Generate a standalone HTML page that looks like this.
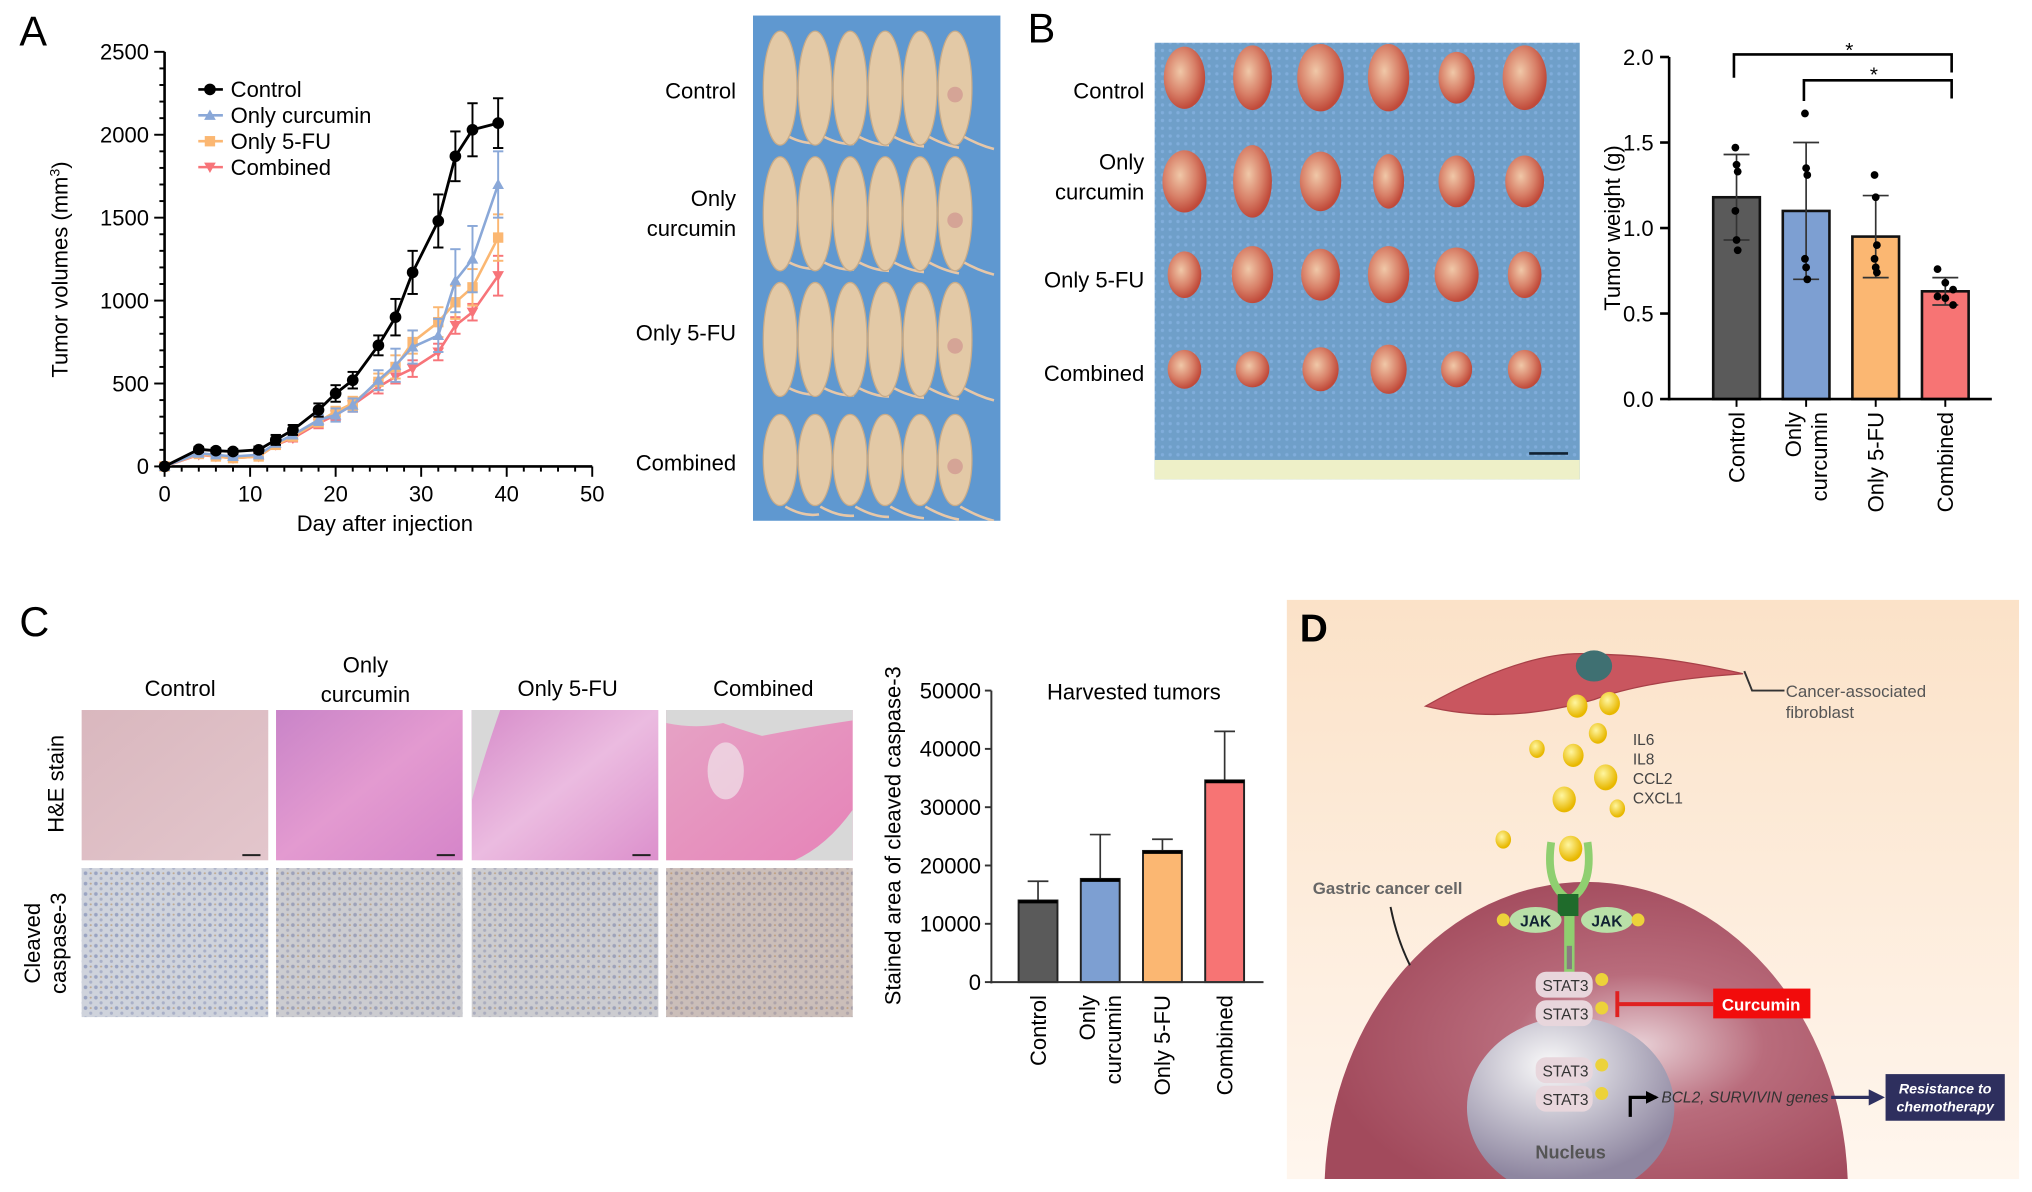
<!DOCTYPE html>
<html><head><meta charset="utf-8">
<style>
html,body{margin:0;padding:0;background:#fff;width:2032px;height:1192px;overflow:hidden;}
svg{display:block;font-family:"Liberation Sans",sans-serif;overflow:hidden;}
</style></head>
<body>
<svg id="fig" width="2032" height="1192" viewBox="0 0 1568 920" preserveAspectRatio="none" xmlns="http://www.w3.org/2000/svg">
<defs>
<pattern id="blueTex" width="6" height="6" patternUnits="userSpaceOnUse"><rect width="6" height="6" fill="#6f9fc9"/><circle cx="3" cy="3" r="1.3" fill="#80addb"/></pattern>
<radialGradient id="tumorG" cx="40%" cy="40%" r="60%"><stop offset="0" stop-color="#f0c8a8"/><stop offset="0.6" stop-color="#d88068"/><stop offset="1" stop-color="#c04a3a"/></radialGradient>
<linearGradient id="heG1" x1="0" y1="0" x2="1" y2="1"><stop offset="0" stop-color="#d9b7be"/><stop offset="1" stop-color="#e3c6cc"/></linearGradient>
<linearGradient id="heG2" x1="0" y1="0" x2="1" y2="1"><stop offset="0" stop-color="#c984c8"/><stop offset="0.5" stop-color="#e39ad0"/><stop offset="1" stop-color="#d585c9"/></linearGradient>
<linearGradient id="heG3" x1="0" y1="0" x2="1" y2="1"><stop offset="0" stop-color="#d68bc9"/><stop offset="0.5" stop-color="#ebbbe0"/><stop offset="1" stop-color="#dc90cc"/></linearGradient>
<linearGradient id="heG4" x1="0" y1="0" x2="1" y2="1"><stop offset="0" stop-color="#e6a3c5"/><stop offset="1" stop-color="#e683b8"/></linearGradient>
<pattern id="ihc" width="8" height="8" patternUnits="userSpaceOnUse"><rect width="8" height="8" fill="#cfd3dc"/><circle cx="2" cy="2" r="1.4" fill="#9aa4c2"/><circle cx="6" cy="6" r="1.2" fill="#a9b0c8"/><circle cx="6" cy="2" r="0.8" fill="#bfa98f"/></pattern>
<linearGradient id="dBg" x1="0" y1="0" x2="0" y2="1"><stop offset="0" stop-color="#fbe2c8"/><stop offset="1" stop-color="#fff6ee"/></linearGradient>
<radialGradient id="cellG" cx="60%" cy="55%" r="60%"><stop offset="0" stop-color="#e8d0d6"/><stop offset="0.4" stop-color="#b96c7c"/><stop offset="1" stop-color="#a24a5c"/></radialGradient>
<radialGradient id="nucG" cx="40%" cy="30%" r="70%"><stop offset="0" stop-color="#fafafa"/><stop offset="0.6" stop-color="#b8b4c4"/><stop offset="1" stop-color="#8e86a0"/></radialGradient>
<radialGradient id="ballG" cx="40%" cy="35%" r="60%"><stop offset="0" stop-color="#fff6a0"/><stop offset="1" stop-color="#e8b800"/></radialGradient>
<clipPath id="miceClip"><rect x="581" y="12" width="191" height="390"/></clipPath>
<marker id="arr" viewBox="0 0 10 10" refX="8" refY="5" markerWidth="5" markerHeight="5" orient="auto"><path d="M0,0L10,5L0,10z" fill="#2e3060"/></marker>
<marker id="arrK" viewBox="0 0 10 10" refX="8" refY="5" markerWidth="4" markerHeight="4" orient="auto"><path d="M0,0L10,5L0,10z" fill="#000"/></marker>
</defs>
<g id="root"></g>
</svg>
<script>
// ---------- Panel A data ----------
const daysA = [0,4,6,8,11,13,15,18,20,22,25,27,29,32,34,36,39];
const ctrlA = [0,103,95,90,100,160,220,340,440,520,730,900,1170,1480,1870,2030,2070];
const ctrlErrA = [0,15,15,15,20,30,30,40,50,50,60,110,130,160,150,160,150];
const curcA = [0,80,70,60,70,140,190,280,310,370,520,610,720,790,1120,1250,1700];
const curcErrA = [0,10,10,10,15,20,20,30,40,40,60,100,100,100,190,200,200];
const fuA = [0,75,60,50,60,130,180,270,330,380,510,600,750,870,990,1080,1380];
const fuErrA = [0,10,10,10,15,20,20,30,30,40,50,70,70,90,100,110,140];
const combA = [0,70,60,50,60,130,170,260,310,370,480,540,590,690,850,930,1150];
const combErrA = [0,10,10,10,15,20,20,30,30,40,40,40,50,50,50,50,120];
const xTicksA = [0,10,20,30,40,50];
const yTicksA = [0,500,1000,1500,2000,2500];
const seriesNamesA = ["Control","Only curcumin","Only 5-FU","Combined"];
// ---------- Panel B data ----------
const catsB = ["Control","Only curcumin","Only 5-FU","Combined"];
const meansB = [1.18,1.10,0.95,0.63];
const sdB = [0.25,0.40,0.24,0.08];
const dotsB = [[1.47,1.37,1.33,1.10,0.93,0.87],[1.67,1.35,1.31,0.82,0.77,0.70],[1.31,1.18,0.90,0.82,0.77,0.74],[0.76,0.68,0.64,0.60,0.59,0.55]];
const yTicksB = ["0.0","0.5","1.0","1.5","2.0"];
// ---------- Panel C data ----------
const catsC = ["Control","Only curcumin","Only 5-FU","Combined"];
const meansC = [14000,17700,22500,34600];
const errTopC = [17300,25300,24500,43000];
const yTicksC = [0,10000,20000,30000,40000,50000];
const colors = ["#5a5a5a","#7d9fd2","#fbb772","#f77474"];

const NS="http://www.w3.org/2000/svg";
const root=document.getElementById('root');
function mk(tag,attrs,parent,txt){const e=document.createElementNS(NS,tag);for(const k in attrs)e.setAttribute(k,attrs[k]);if(txt!==undefined)e.textContent=txt;(parent||root).appendChild(e);return e;}
function grp(name){const g=mk('g',{});return g;}

// ===== Panel letters =====
[["A",15,35],["B",793,33],["C",15,491]].forEach(p=>{
  const t=mk('text',{x:p[1],y:p[2],'font-size':32},root,p[0]);
  
  
});

// ===== Panel A chart =====
const gA=grp('panel-a-line-chart');
const xA=d=>127+d*(457-127)/50, yA=v=>360-v*(360-40)/2500;
mk('line',{x1:127,y1:40,x2:127,y2:360,stroke:'#000','stroke-width':2},gA);
mk('line',{x1:127,y1:360,x2:457,y2:360,stroke:'#000','stroke-width':2},gA);
for(let d=0;d<=50;d+=2){mk('line',{x1:xA(d),y1:360,x2:xA(d),y2:d%10===0?368:364,stroke:'#000','stroke-width':1.5},gA);}
for(let v=0;v<=2500;v+=100){mk('line',{x1:127,y1:yA(v),x2:v%500===0?119:123,y2:yA(v),stroke:'#000','stroke-width':1.5},gA);}
xTicksA.forEach(d=>{const t=mk('text',{x:xA(d),y:387,'font-size':17,'text-anchor':'middle'},gA,d);
  
  });
yTicksA.forEach(v=>{const t=mk('text',{x:115,y:yA(v)+6,'font-size':17,'text-anchor':'end'},gA,v);
  
  });
let tt=mk('text',{x:297,y:410,'font-size':17,'text-anchor':'middle'},gA,'Day after injection');


tt=mk('text',{x:0,y:0,'font-size':17,'text-anchor':'middle',transform:'translate(52,208) rotate(-90)'},gA);


tt.innerHTML='Tumor volumes (mm<tspan baseline-shift="super" font-size="11">3</tspan>)';
const serA=[[ctrlA,ctrlErrA,'#000'],[curcA,curcErrA,'#8aa8d8'],[fuA,fuErrA,'#fbb772'],[combA,combErrA,'#f77479']];
for(let s=3;s>=0;s--){
  const [vals,errs,c]=serA[s];
  const g=grp('series-'+seriesNamesA[s].toLowerCase().replace(/[^a-z0-9]+/g,'-'));
  gA.appendChild(g);
  mk('polyline',{points:daysA.map((d,i)=>xA(d)+','+yA(vals[i])).join(' '),fill:'none',stroke:c,'stroke-width':s===0?2.2:2},g);
  daysA.forEach((d,i)=>{
    mk('line',{x1:xA(d),y1:yA(vals[i]+errs[i]),x2:xA(d),y2:yA(vals[i]-errs[i]),stroke:c,'stroke-width':1.5},g);
    mk('line',{x1:xA(d)-4,y1:yA(vals[i]+errs[i]),x2:xA(d)+4,y2:yA(vals[i]+errs[i]),stroke:c,'stroke-width':1.5},g);
    mk('line',{x1:xA(d)-4,y1:yA(vals[i]-errs[i]),x2:xA(d)+4,y2:yA(vals[i]-errs[i]),stroke:c,'stroke-width':1.5},g);
    let m;
    if(s===0) m=mk('circle',{cx:xA(d),cy:yA(vals[i]),r:4.5,fill:c},g);
    else if(s===3) m=mk('path',{d:`M${xA(d)-4.5},${yA(vals[i])-3.5}h9l-4.5,8z`,fill:c},g);
    else if(s===1) m=mk('path',{d:`M${xA(d)-4.5},${yA(vals[i])+3.5}h9l-4.5,-8z`,fill:c},g);
    else m=mk('rect',{x:xA(d)-4,y:yA(vals[i])-4,width:8,height:8,fill:c},g);
    
    
  });
}
const legA=grp('legend');gA.appendChild(legA);
seriesNamesA.forEach((n,i)=>{
  const y=69+i*20,c=serA[i][2];
  mk('line',{x1:153,y1:y,x2:172,y2:y,stroke:c,'stroke-width':2},legA);
  if(i===0) mk('circle',{cx:162,cy:y,r:4.5,fill:c},legA);
  else if(i===1) mk('path',{d:`M157.5,${y+3.5}h9l-4.5,-8z`,fill:c},legA);
  else if(i===2) mk('rect',{x:158,y:y-4,width:8,height:8,fill:c},legA);
  else mk('path',{d:`M157.5,${y-3.5}h9l-4.5,8z`,fill:c},legA);
  const t=mk('text',{x:178,y:y+6,'font-size':17},legA,n);
  
  
});

// ===== Mice photo =====
const gM=grp('mice-photo');
gM.setAttribute('clip-path','url(#miceClip)');
mk('rect',{x:581,y:12,width:191,height:390,fill:'#5f98d0'},gM);
[[68,1],[165,1],[262,1],[355,0.8]].forEach((r,ri)=>{
  for(let k=0;k<6;k++){
    const cx=602+k*27, cy=r[0];
    mk('path',{d:`M${cx+4},${cy+36} q14,8 26,${6+k}`,fill:'none',stroke:'#e6c7a8','stroke-width':2},gM);
    mk('ellipse',{cx:cx,cy:cy,rx:13,ry:44*r[1],fill:'#e3c9a6',stroke:'#c8ab88','stroke-width':1},gM);
  }
  mk('circle',{cx:602+5*27,cy:r[0]+5,r:6,fill:'#d5a496'},gM);
});
[["Control",70],["Only",153],["curcumin",176],["Only 5-FU",257],["Combined",357]].forEach(l=>{
  const t=mk('text',{x:568,y:l[1]+6,'font-size':17,'text-anchor':'end'},root,l[0]);
  
  
});

// ===== Tumor photo =====
const gT=grp('tumor-photo');
mk('rect',{x:891,y:33,width:328,height:337,fill:'url(#blueTex)'},gT);
mk('rect',{x:891,y:355,width:328,height:15,fill:'#eef0c8'},gT);
mk('line',{x1:1180,y1:350,x2:1210,y2:350,stroke:'#123','stroke-width':2},gT);
const tsz=[[[16,24],[15,25],[18,26],[16,26],[14,20],[17,25]],[[17,24],[15,28],[16,23],[12,21],[14,20],[15,20]],[[13,18],[16,22],[15,20],[16,22],[17,21],[13,18]],[[13,15],[13,14],[14,17],[14,19],[12,14],[13,15]]];
[60,140,212,285].forEach((ry,ri)=>{
  for(let k=0;k<6;k++){const cx=914+k*52.5;mk('ellipse',{cx:cx,cy:ry,rx:tsz[ri][k][0],ry:tsz[ri][k][1],fill:'url(#tumorG)'},gT);}
});
[["Control",70],["Only",125],["curcumin",148],["Only 5-FU",216],["Combined",288]].forEach(l=>{
  const t=mk('text',{x:883,y:l[1]+6,'font-size':17,'text-anchor':'end'},root,l[0]);
  
  
});

// ===== Panel B bar chart =====
const gB=grp('panel-b-bar-chart');
const yB=v=>308-v*(308-44)/2.0, xB=i=>1340+i*53.7, bwB=36;
catsB.forEach((c,i)=>{
  const b=mk('rect',{x:xB(i)-bwB/2,y:yB(meansB[i]),width:bwB,height:308-yB(meansB[i]),fill:colors[i],stroke:'#111','stroke-width':2},gB);
  
  
  const hi=meansB[i]+sdB[i],lo=meansB[i]-sdB[i];
  mk('line',{x1:xB(i),y1:yB(hi),x2:xB(i),y2:yB(lo),stroke:'#333','stroke-width':1.3},gB);
  mk('line',{x1:xB(i)-10,y1:yB(hi),x2:xB(i)+10,y2:yB(hi),stroke:'#333','stroke-width':1.3},gB);
  mk('line',{x1:xB(i)-10,y1:yB(lo),x2:xB(i)+10,y2:yB(lo),stroke:'#333','stroke-width':1.3},gB);
  dotsB[i].forEach((v,j)=>{const d=mk('circle',{cx:xB(i)+((j%3)-1)*3*(i===3?2:0.3),cy:yB(v),r:3,fill:'#000'},gB);
    
    });
  mk('line',{x1:xB(i),y1:308,x2:xB(i),y2:314,stroke:'#000','stroke-width':1.5},gB);
});
mk('line',{x1:1288,y1:44,x2:1288,y2:309,stroke:'#000','stroke-width':2},gB);
mk('line',{x1:1287,y1:308,x2:1537,y2:308,stroke:'#000','stroke-width':2},gB);
yTicksB.forEach(v=>{mk('line',{x1:1281,y1:yB(+v),x2:1288,y2:yB(+v),stroke:'#000','stroke-width':2},gB);
  const t=mk('text',{x:1276,y:yB(+v)+6,'font-size':17,'text-anchor':'end'},gB,v);
  
  });
tt=mk('text',{x:0,y:0,'font-size':17,'text-anchor':'middle',transform:'translate(1250,176) rotate(-90)'},gB,'Tumor weight (g)');


catsB.forEach((c,i)=>{
  const parts=c==="Only curcumin"?["Only","curcumin"]:[c];
  parts.forEach((p,k)=>{const t=mk('text',{x:0,y:0,'font-size':17,'text-anchor':'end',transform:`translate(${xB(i)+6+(parts.length>1?(k*20-10):0)},318) rotate(-90)`},gB,p);
    
    });
});
mk('path',{d:'M1338,60 V42 H1506 V56',fill:'none',stroke:'#000','stroke-width':2},gB);
mk('path',{d:'M1392,78 V62 H1506 V76',fill:'none',stroke:'#000','stroke-width':2},gB);
mk('text',{x:1427,y:44,'font-size':16,'text-anchor':'middle'},gB,'*');
mk('text',{x:1446,y:63,'font-size':16,'text-anchor':'middle'},gB,'*');

// ===== Panel C histology =====
const gH=grp('histology-images');
const colX=[63,213,364,514];
colX.forEach((x,i)=>{
  mk('rect',{x:x,y:548,width:144,height:116,fill:`url(#heG${i+1})`},gH);
  mk('rect',{x:x,y:670,width:144,height:115,fill:'url(#ihc)'},gH);
  if(i>0) mk('rect',{x:x,y:670,width:144,height:115,fill:i===3?'#c08050':'#b89070',opacity:i===3?0.25:0.1},gH);
  mk('line',{x1:x+124,y1:660,x2:x+138,y2:660,stroke:'#222','stroke-width':1.5},gH);
});
mk('path',{d:'M514,548 h144 v8 q-40,6 -70,12 q-20,-6 -30,-10 q-20,5 -44,0z',fill:'#d8d8d8'},gH);
mk('path',{d:'M658,625 q-20,28 -45,39 h45z',fill:'#d8d8d8'},gH);
mk('path',{d:'M364,548 h22 q-14,40 -22,70z',fill:'#d8d8d8'},gH);
mk('ellipse',{cx:560,cy:595,rx:14,ry:22,fill:'#f0e4ea',opacity:0.7},gH);
[["Control",139,531],["Only",282,513],["curcumin",282,536],["Only 5-FU",438,531],["Combined",589,531]].forEach(l=>{
  const t=mk('text',{x:l[1],y:l[2]+6,'font-size':17,'text-anchor':'middle'},root,l[0]);
  
  
});
[["H&E stain",49,605],["Cleaved",31,728],["caspase-3",51,728]].forEach(l=>{
  const t=mk('text',{x:0,y:0,'font-size':17,'text-anchor':'middle',transform:`translate(${l[1]},${l[2]}) rotate(-90)`},root,l[0]);
  
  
});

// ===== Panel C bar chart =====
const gC=grp('panel-c-bar-chart');
const yC=v=>758-v*(758-533)/50000, xC=i=>801+i*48, bwC=30;
catsC.forEach((c,i)=>{
  mk('line',{x1:xC(i),y1:yC(errTopC[i]),x2:xC(i),y2:yC(meansC[i]),stroke:'#333','stroke-width':1.3},gC);
  mk('line',{x1:xC(i)-8,y1:yC(errTopC[i]),x2:xC(i)+8,y2:yC(errTopC[i]),stroke:'#333','stroke-width':1.3},gC);
  const b=mk('rect',{x:xC(i)-bwC/2,y:yC(meansC[i]),width:bwC,height:758-yC(meansC[i]),fill:colors[i],stroke:'#222','stroke-width':1.5},gC);
  
  
  mk('line',{x1:xC(i)-bwC/2,y1:yC(meansC[i])+1,x2:xC(i)+bwC/2,y2:yC(meansC[i])+1,stroke:'#000','stroke-width':2.5},gC);
  const parts=c==="Only curcumin"?["Only","curcumin"]:[c];
  parts.forEach((p,k)=>{const t=mk('text',{x:0,y:0,'font-size':17,'text-anchor':'end',transform:`translate(${xC(i)+6+(parts.length>1?(k*20-10):0)},768) rotate(-90)`},gC,p);
    
    });
});
mk('line',{x1:765,y1:533,x2:765,y2:759,stroke:'#333','stroke-width':1.5},gC);
mk('line',{x1:764,y1:758,x2:975,y2:758,stroke:'#333','stroke-width':1.5},gC);
yTicksC.forEach(v=>{mk('line',{x1:760,y1:yC(v),x2:765,y2:yC(v),stroke:'#333','stroke-width':1.5},gC);
  const t=mk('text',{x:757,y:yC(v)+6,'font-size':17,'text-anchor':'end'},gC,v);
  
  });
tt=mk('text',{x:875,y:540,'font-size':17,'text-anchor':'middle'},gC,'Harvested tumors');


tt=mk('text',{x:0,y:0,'font-size':17,'text-anchor':'middle',transform:'translate(695,645) rotate(-90)'},gC,'Stained area of cleaved caspase-3');



// ===== Panel D diagram =====
const gD=grp('panel-d-diagram');
mk('rect',{x:993,y:463,width:565,height:447,fill:'url(#dBg)'},gD);
mk('path',{d:'M1022.2,910 A202,240 0 0 1 1425.8,910 Z',fill:'url(#cellG)'},gD);
mk('path',{d:'M1162.5,910 A80,70 0 1 1 1261.5,910 Z',fill:'url(#nucG)'},gD);
mk('path',{d:'M1100,545 Q1180,500 1230,505 Q1280,505 1345,520 Q1270,525 1230,540 Q1160,560 1100,545Z',fill:'#c9565f',stroke:'#a84048','stroke-width':1},gD);
mk('ellipse',{cx:1230,cy:514,rx:14,ry:12,fill:'#3f7072'},gD);
[[1217,545,8],[1242,543,8],[1214,583,8],[1239,600,9],[1207,617,9],[1233,566,7],[1186,578,6],[1248,624,6],[1160,648,6],[1212,655,9]].forEach(b=>mk('ellipse',{cx:b[0],cy:b[1],rx:b[2],ry:b[2]+1,fill:'url(#ballG)'},gD));
mk('path',{d:'M1197,650 q-5,35 15,45 v60 M1225,650 q5,35 -15,45 v60',fill:'none',stroke:'#8fcf70','stroke-width':6},gD);
mk('rect',{x:1202,y:690,width:16,height:17,fill:'#1f6b2b'},gD);
[[1185,710,'JAK'],[1240,710,'JAK']].forEach(j=>{mk('ellipse',{cx:j[0],cy:j[1],rx:20,ry:10,fill:'#b9e0a8'},gD);mk('text',{x:j[0],y:j[1]+5,'font-size':12,'font-weight':'bold','text-anchor':'middle',fill:'#123'},gD,j[2]);});
mk('circle',{cx:1160,cy:710,r:5,fill:'#ecd23a'},gD);mk('circle',{cx:1264,cy:710,r:5,fill:'#ecd23a'},gD);
mk('line',{x1:1211,y1:730,x2:1211,y2:748,stroke:'#8a7a80','stroke-width':4},gD);
[[760,'STAT3'],[782,'STAT3'],[826,'STAT3'],[848,'STAT3']].forEach(s=>{mk('rect',{x:1185,y:s[0]-10,width:44,height:20,rx:8,fill:'#e8d6dc'},gD);mk('text',{x:1208,y:s[0]+5,'font-size':12,'text-anchor':'middle',fill:'#333'},gD,s[1]);mk('circle',{cx:1236,cy:s[0]-4,r:5,fill:'#ecd23a'},gD);});
mk('line',{x1:1248,y1:775,x2:1322,y2:775,stroke:'#e02020','stroke-width':3},gD);
mk('line',{x1:1248,y1:765,x2:1248,y2:785,stroke:'#e02020','stroke-width':3},gD);
mk('rect',{x:1322,y:763,width:75,height:23,fill:'#f20c0c'},gD);
mk('text',{x:1359,y:780,'font-size':13,'font-weight':'bold','text-anchor':'middle',fill:'#fff'},gD,'Curcumin');
mk('path',{d:'M1258,862 v-15 h20',fill:'none',stroke:'#000','stroke-width':2.5,'marker-end':'url(#arrK)'},gD);
mk('text',{x:1282,y:851,'font-size':12,'font-style':'italic',fill:'#333'},gD,'BCL2, SURVIVIN genes');
mk('line',{x1:1413,y1:847,x2:1452,y2:847,stroke:'#2e3060','stroke-width':2.5,'marker-end':'url(#arr)'},gD);
mk('rect',{x:1455,y:829,width:92,height:36,fill:'#2e2f5e'},gD);
mk('text',{x:1501,y:844,'font-size':11,'font-weight':'bold','font-style':'italic','text-anchor':'middle',fill:'#fff'},gD,'Resistance to');
mk('text',{x:1501,y:858,'font-size':11,'font-weight':'bold','font-style':'italic','text-anchor':'middle',fill:'#fff'},gD,'chemotherapy');
mk('text',{x:1212,y:894,'font-size':14,'font-weight':'bold','text-anchor':'middle',fill:'#555'},gD,'Nucleus');
mk('path',{d:'M1346,518 l6,15 h25',fill:'none',stroke:'#333','stroke-width':1.5},gD);
mk('text',{x:1378,y:538,'font-size':13,fill:'#555'},gD,'Cancer-associated');
mk('text',{x:1378,y:554,'font-size':13,fill:'#555'},gD,'fibroblast');
['IL6','IL8','CCL2','CXCL1'].forEach((c,i)=>mk('text',{x:1260,y:575+i*15,'font-size':12,fill:'#444'},gD,c));
mk('text',{x:1013,y:690,'font-size':13,'font-weight':'bold',fill:'#666'},gD,'Gastric cancer cell');
mk('path',{d:'M1073,700 q5,25 15,45',fill:'none',stroke:'#222','stroke-width':1.5},gD);
mk('text',{x:1003,y:495,'font-size':30,'font-weight':'bold'},gD,'D');
</script>
</body></html>
